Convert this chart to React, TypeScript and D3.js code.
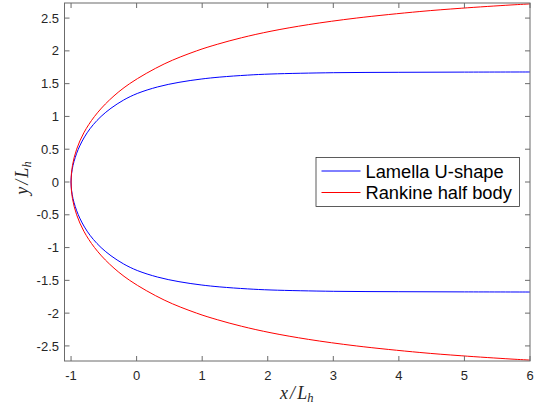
import React, { useEffect, useRef } from 'react';
import * as d3 from 'd3';

// curve points (x/L_h, y/L_h), lower branch -> nose -> upper branch
const lamellaX = [6.0, 5.0, 4.0, 3.0, 2.05, 1.69, 1.27, 0.984, 0.646, 0.32, 0.01, -0.198, -0.391, -0.542, -0.661, -0.755, -0.83, -0.89, -0.936, -0.971, -0.9925, -1.0,
  -0.9925, -0.971, -0.936, -0.89, -0.83, -0.755, -0.661, -0.542, -0.391, -0.198, 0.01, 0.32, 0.646, 0.984, 1.27, 1.69, 2.05, 3.0, 4.0, 5.0, 6.0];
const lamellaY = [-1.678, -1.676, -1.673, -1.667, -1.647, -1.63, -1.6, -1.57, -1.52, -1.45, -1.35, -1.25, -1.125, -1.0, -0.875, -0.75, -0.625, -0.5, -0.375, -0.25, -0.125, 0,
  0.125, 0.25, 0.375, 0.5, 0.625, 0.75, 0.875, 1.0, 1.125, 1.25, 1.35, 1.45, 1.52, 1.57, 1.6, 1.63, 1.647, 1.667, 1.673, 1.676, 1.678];

const rankineX = [6.0, 5.71, 4.95, 4.32, 3.35, 2.62, 2.05, 1.6, 1.23, 0.915, 0.42, -0.106, -0.415, -0.642, -0.805, -0.915, -0.979, -1.0,
  -0.979, -0.915, -0.805, -0.642, -0.415, -0.106, 0.42, 0.915, 1.23, 1.6, 2.05, 2.62, 3.35, 4.32, 4.95, 5.71, 6.0];
const rankineY = [-2.716, -2.7, -2.65, -2.6, -2.5, -2.4, -2.3, -2.2, -2.1, -2.0, -1.8, -1.5, -1.25, -1.0, -0.75, -0.5, -0.25, 0,
  0.25, 0.5, 0.75, 1.0, 1.25, 1.5, 1.8, 2.0, 2.1, 2.2, 2.3, 2.4, 2.5, 2.6, 2.65, 2.7, 2.716];

const xTicks = [-1, 0, 1, 2, 3, 4, 5, 6];
const yTicks = [-2.5, -2, -1.5, -1, -0.5, 0, 0.5, 1, 1.5, 2, 2.5];

const series = [
  { name: 'Lamella U-shape', xs: lamellaX, ys: lamellaY, color: '#0000ff' },
  { name: 'Rankine half body', xs: rankineX, ys: rankineY, color: '#ff0000' },
];

export default function App() {
  const ref = useRef<SVGSVGElement>(null);

  useEffect(() => {
    const svg = d3.select(ref.current);
    svg.selectAll('*').remove();

    const margin = { top: 3, left: 64.5, bottom: 53, right: 13 };
    const width = 543, height = 414;
    const tickFont = '"Liberation Sans", Arial, Helvetica, sans-serif';
    const axisColor = '#6b6b6b';
    const textColor = '#262626';

    const x = d3.scaleLinear().domain([-1.1, 6]).range([margin.left, width - margin.right]);
    const y = d3.scaleLinear().domain([-2.73, 2.73]).range([height - margin.bottom, margin.top]);

    svg.append('rect').attr('width', width).attr('height', height).attr('fill', 'white');

    svg.append('defs').append('clipPath').attr('id', 'plotclip')
      .append('rect')
      .attr('x', x(-1.1)).attr('y', y(2.73))
      .attr('width', x(6) - x(-1.1)).attr('height', y(-2.73) - y(2.73));

    // curves
    const line = d3.line().curve(d3.curveCatmullRom.alpha(0.5));
    series.forEach(s => {
      const pts: [number, number][] = s.xs.map((v, i) => [x(v), y(s.ys[i])]);
      svg.append('path')
        .attr('d', line(pts))
        .attr('fill', 'none')
        .attr('stroke', s.color)
        .attr('stroke-width', 1)
        .attr('clip-path', 'url(#plotclip)');
    });

    // axes (box with ticks on all sides, pointing inward)
    const tl = 5;
    const axes = svg.append('g');
    axes.append('rect')
      .attr('x', x(-1.1)).attr('y', y(2.73))
      .attr('width', x(6) - x(-1.1)).attr('height', y(-2.73) - y(2.73))
      .attr('fill', 'none').attr('stroke', axisColor).attr('stroke-width', 1);

    xTicks.forEach(t => {
      axes.append('line').attr('x1', x(t)).attr('x2', x(t))
        .attr('y1', y(-2.73)).attr('y2', y(-2.73) - tl).attr('stroke', axisColor);
      axes.append('line').attr('x1', x(t)).attr('x2', x(t))
        .attr('y1', y(2.73)).attr('y2', y(2.73) + tl).attr('stroke', axisColor);
      axes.append('text').attr('x', x(t)).attr('y', y(-2.73) + 18.5)
        .attr('text-anchor', 'middle').attr('font-family', tickFont).attr('font-size', 13)
        .attr('fill', textColor).text(String(t));
    });
    yTicks.forEach(t => {
      axes.append('line').attr('x1', x(-1.1)).attr('x2', x(-1.1) + tl)
        .attr('y1', y(t)).attr('y2', y(t)).attr('stroke', axisColor);
      axes.append('line').attr('x1', x(6)).attr('x2', x(6) - tl)
        .attr('y1', y(t)).attr('y2', y(t)).attr('stroke', axisColor);
      axes.append('text').attr('x', x(-1.1) - 5.5).attr('y', y(t) + 4.6)
        .attr('text-anchor', 'end').attr('font-family', tickFont).attr('font-size', 13)
        .attr('fill', textColor).text(String(t));
    });

    // axis labels (LaTeX-like)
    const labelFont = '"Liberation Serif", "DejaVu Serif", serif';
    const xl = svg.append('text').attr('x', (x(-1.1) + x(6)) / 2 - 0.5).attr('y', 398.5)
      .attr('text-anchor', 'middle').attr('font-family', labelFont).attr('font-size', 18)
      .attr('font-style', 'italic').attr('fill', textColor);
    xl.append('tspan').text('x');
    xl.append('tspan').attr('dx', 2).text('/');
    xl.append('tspan').attr('dx', 2).text('L');
    xl.append('tspan').attr('font-size', 12.5).attr('dy', 3).text('h');

    const yl = svg.append('text')
      .attr('transform', `translate(28,${(y(2.73) + y(-2.73)) / 2 - 4}) rotate(-90)`)
      .attr('text-anchor', 'middle').attr('font-family', labelFont).attr('font-size', 18)
      .attr('font-style', 'italic').attr('fill', textColor);
    yl.append('tspan').text('y');
    yl.append('tspan').attr('dx', 2).text('/');
    yl.append('tspan').attr('dx', 2).text('L');
    yl.append('tspan').attr('font-size', 12.5).attr('dy', 3).text('h');

    // legend
    const lg = svg.append('g').attr('transform', 'translate(316,157.5)');
    lg.append('rect').attr('width', 203.5).attr('height', 49).attr('fill', 'white')
      .attr('stroke', '#262626').attr('stroke-width', 0.75);
    series.forEach((s, i) => {
      const cy = 13.5 + i * 21.5;
      lg.append('line').attr('x1', 5.5).attr('x2', 44.5).attr('y1', cy).attr('y2', cy)
        .attr('stroke', s.color).attr('stroke-width', 1);
      lg.append('text').attr('x', 49.5).attr('y', cy + 6.5)
        .attr('font-family', tickFont).attr('font-size', 18.3).attr('fill', '#000')
        .text(s.name);
    });
  }, []);

  return <svg ref={ref} width={543} height={414} style={{ display: 'block', position: 'absolute', left: 0, top: 0 }} />;
}
